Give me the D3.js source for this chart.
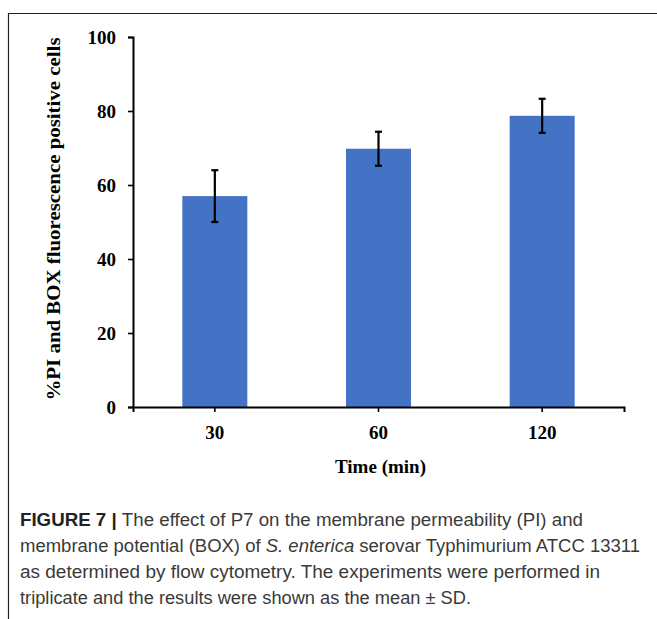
<!DOCTYPE html>
<html>
<head>
<meta charset="utf-8">
<script src="https://cdn.jsdelivr.net/npm/d3@7"></script>
<style>
  html, body { margin: 0; padding: 0; background: #fff; }
</style>
</head>
<body>
<div id="canvas"></div>
<script>
"use strict";

// data
let times = ["30", "60", "120"];
let means = [57, 69.8, 78.7];
let sds = [7, 4.6, 4.6];
let yTicks = [0, 20, 40, 60, 80, 100];

let captionLines = [
    [{ t: "FIGURE 7 | ", b: true }, { t: "The effect of P7 on the membrane permeability (PI) and" }],
    [{ t: "membrane potential (BOX) of " }, { t: "S. enterica", i: true }, { t: " serovar Typhimurium ATCC 13311" }],
    [{ t: "as determined by flow cytometry. The experiments were performed in" }],
    [{ t: "triplicate and the results were shown as the mean \u00b1 SD." }]
];
// width each caption line takes in the figure
let captionWidths = [563, 620, 580, 451];

let svgWidth = 657;
let svgHeight = 619;

let margin = { top: 37, left: 133, right: 33, bottom: 212 };

let svg = d3.select("#canvas")
    .append("svg")
    .attr("width", svgWidth)
    .attr("height", svgHeight);

/* frame */
svg.append("path")
    .attr("d", "M 8.5 " + svgHeight + " L 8.5 13.5 L " + svgWidth + " 13.5")
    .attr("fill", "none")
    .attr("stroke", "#222")
    .attr("stroke-width", 1.2);

/* scales */
let xScale = d3.scaleBand()
    .domain(times)
    .range([margin.left, svgWidth - margin.right])
    .paddingInner(0.6)
    .paddingOuter(0.3);

let yScale = d3.scaleLinear()
    .domain([0, 100])
    .range([svgHeight - margin.bottom, margin.top]);

let barWidth = 65;
let serif = "'Liberation Serif', 'Times New Roman', serif";

/* bars */
svg.append("g")
    .selectAll("rect")
    .data(times)
    .join("rect")
    .attr("x", function (d) { return xScale(d) + xScale.bandwidth() / 2 - barWidth / 2; })
    .attr("y", function (d, i) { return yScale(means[i]); })
    .attr("width", barWidth)
    .attr("height", function (d, i) { return yScale(0) - yScale(means[i]); })
    .attr("fill", "#4472c4");

/* error bars */
let errG = svg.append("g")
    .attr("stroke", "#000")
    .attr("stroke-width", 2.2);

times.forEach(function (t, i) {
    let cx = xScale(t) + xScale.bandwidth() / 2;
    let hi = yScale(means[i] + sds[i]);
    let lo = yScale(means[i] - sds[i]);
    errG.append("line").attr("x1", cx).attr("x2", cx).attr("y1", hi).attr("y2", lo);
    errG.append("line").attr("x1", cx - 3.5).attr("x2", cx + 3.5).attr("y1", hi).attr("y2", hi);
    errG.append("line").attr("x1", cx - 3.5).attr("x2", cx + 3.5).attr("y1", lo).attr("y2", lo);
});

/* y axis */
let yAxis = d3.axisLeft(yScale)
    .tickValues(yTicks)
    .tickSize(5)
    .tickPadding(12);

let yG = svg.append("g")
    .attr("transform", "translate(" + margin.left + ",0)")
    .call(yAxis);

/* x axis */
let xAxis = d3.axisBottom(xScale)
    .tickSize(5)
    .tickPadding(14);

let xG = svg.append("g")
    .attr("transform", "translate(0," + yScale(0) + ")")
    .call(xAxis);

[yG, xG].forEach(function (g) {
    g.select(".domain").attr("stroke", "#000").attr("stroke-width", 2);
    g.selectAll(".tick line").attr("stroke", "#000").attr("stroke-width", 1.6);
    g.selectAll(".tick text")
        .attr("fill", "#000")
        .style("font-family", serif)
        .style("font-weight", "bold")
        .style("font-size", "19px");
});

/* axis titles */
svg.append("text")
    .attr("transform", "translate(60," + 219 + ") rotate(-90)")
    .attr("text-anchor", "middle")
    .attr("textLength", 363)
    .attr("lengthAdjust", "spacingAndGlyphs")
    .style("font-family", serif)
    .style("font-weight", "bold")
    .style("font-size", "19px")
    .text("%PI and BOX fluorescence positive cells");

svg.append("text")
    .attr("x", (margin.left + svgWidth - margin.right) / 2 + 2)
    .attr("y", 473)
    .attr("text-anchor", "middle")
    .style("font-family", serif)
    .style("font-weight", "bold")
    .style("font-size", "19px")
    .text("Time (min)");

/* caption */
let cap = svg.append("g")
    .style("font-family", "'Liberation Sans', Arial, sans-serif")
    .style("font-size", "17.5px")
    .attr("fill", "#3a3a3a");

captionLines.forEach(function (parts, i) {
    let txt = cap.append("text")
        .attr("x", 20)
        .attr("y", 526 + i * 26)
        .attr("textLength", captionWidths[i])
        .attr("lengthAdjust", "spacingAndGlyphs");
    parts.forEach(function (p) {
        txt.append("tspan")
            .style("font-weight", p.b ? "bold" : "normal")
            .style("font-style", p.i ? "italic" : "normal")
            .attr("fill", p.b ? "#222" : "#3a3a3a")
            .text(p.t);
    });
});
</script>
</body>
</html>
